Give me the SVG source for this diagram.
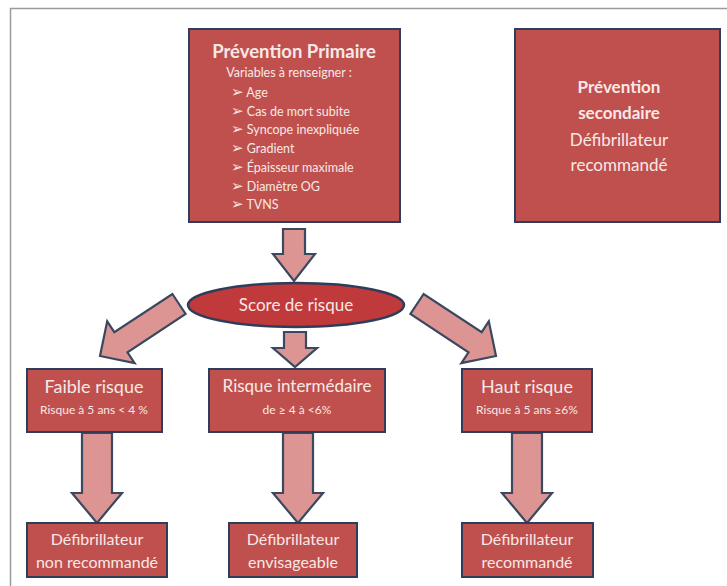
<svg xmlns="http://www.w3.org/2000/svg" width="727" height="586" viewBox="0 0 727 586">
<style>
.box{fill:#c0504d;stroke:#2f3d5a;stroke-width:2}
.ell{fill:#c0393b;stroke:#2f3d5a;stroke-width:2.5}
.arr{fill:#dc9593;stroke:#3a4860;stroke-width:2.2;stroke-linejoin:miter}
text{font-family:Lato,"Open Sans","Liberation Sans",sans-serif;fill:#f7e8e7}
.c{text-anchor:middle}
.b{font-weight:bold}
.m{font-family:"DejaVu Sans",sans-serif;font-size:15px}
</style>
<rect width="727" height="586" fill="#ffffff"/>
<path d="M727,8.5 H10.5 V586" fill="none" stroke="#9a9a9a" stroke-width="1.5"/>
<g id="connectors">
<polygon class="arr" points="283,229 305,229 305,254 315,254 294,281 273,254 283,254"/>
<polygon class="arr" points="284,332 306,332 306,348 317,348 295,367 273,348 284,348"/>
<polygon class="arr" points="172.4,294 185.6,314 127.5,352.3 134.6,363.1 100,356 107.2,321.4 114.3,332.2"/>
<polygon class="arr" points="423.6,294 410.4,314 468.5,352.3 461.4,363.1 496,356 488.8,321.4 481.7,332.2"/>
<polygon class="arr" points="82,433 112,433 112,493 122,493 97,523 72,493 82,493"/>
<polygon class="arr" points="283,433 313,433 313,493 323,493 298,523 273,493 283,493"/>
<polygon class="arr" points="512,433 542,433 542,493 552,493 527,523 502,493 512,493"/>
</g>
<g id="primary">
<rect class="box" x="189" y="29" width="211" height="193"/>
<text class="c b" x="294" y="58" font-size="18.5">Prévention Primaire</text>
<text class="c" x="289" y="77" font-size="12.5">Variables à renseigner :</text>
<g font-size="12.5">
<text x="231" y="97"><tspan class="m">➢</tspan> Age</text>
<text x="231" y="116"><tspan class="m">➢</tspan> Cas de mort subite</text>
<text x="231" y="134"><tspan class="m">➢</tspan> Syncope inexpliquée</text>
<text x="231" y="153"><tspan class="m">➢</tspan> Gradient</text>
<text x="231" y="172"><tspan class="m">➢</tspan> Épaisseur maximale</text>
<text x="231" y="191"><tspan class="m">➢</tspan> Diamètre OG</text>
<text x="231" y="209"><tspan class="m">➢</tspan> TVNS</text>
</g>
</g>
<g id="secondary">
<rect class="box" x="515" y="29" width="205" height="193"/>
<text class="c b" x="619" y="93" font-size="17">Prévention</text>
<text class="c b" x="619" y="119" font-size="17">secondaire</text>
<text class="c" x="619" y="146" font-size="17">Défibrillateur</text>
<text class="c" x="619" y="171" font-size="17">recommandé</text>
</g>
<g id="score">
<ellipse class="ell" cx="296" cy="305" rx="108" ry="22"/>
<text class="c" x="296" y="311" font-size="17">Score de risque</text>
</g>
<g id="faible">
<rect class="box" x="27" y="369" width="135" height="63"/>
<text class="c" x="94" y="393" font-size="18">Faible risque</text>
<text class="c" x="94" y="414" font-size="12">Risque à 5 ans &lt; 4 %</text>
</g>
<g id="intermediaire">
<rect class="box" x="209" y="369" width="176" height="63"/>
<text class="c" x="297" y="392" font-size="17">Risque intermédaire</text>
<text class="c" x="297" y="414" font-size="12">de ≥ 4 à &lt;6%</text>
</g>
<g id="haut">
<rect class="box" x="462" y="369" width="130" height="63"/>
<text class="c" x="527" y="393" font-size="18">Haut risque</text>
<text class="c" x="527" y="414" font-size="12">Risque à 5 ans ≥6%</text>
</g>
<g id="non-recommande">
<rect class="box" x="27" y="523" width="140" height="54"/>
<text class="c" x="97" y="545" font-size="16">Défibrillateur</text>
<text class="c" x="97" y="568" font-size="16">non recommandé</text>
</g>
<g id="envisageable">
<rect class="box" x="229" y="523" width="128" height="54"/>
<text class="c" x="293" y="545" font-size="16">Défibrillateur</text>
<text class="c" x="293" y="568" font-size="16">envisageable</text>
</g>
<g id="recommande">
<rect class="box" x="462" y="523" width="131" height="54"/>
<text class="c" x="527" y="545" font-size="16">Défibrillateur</text>
<text class="c" x="527" y="568" font-size="16">recommandé</text>
</g>
</svg>
